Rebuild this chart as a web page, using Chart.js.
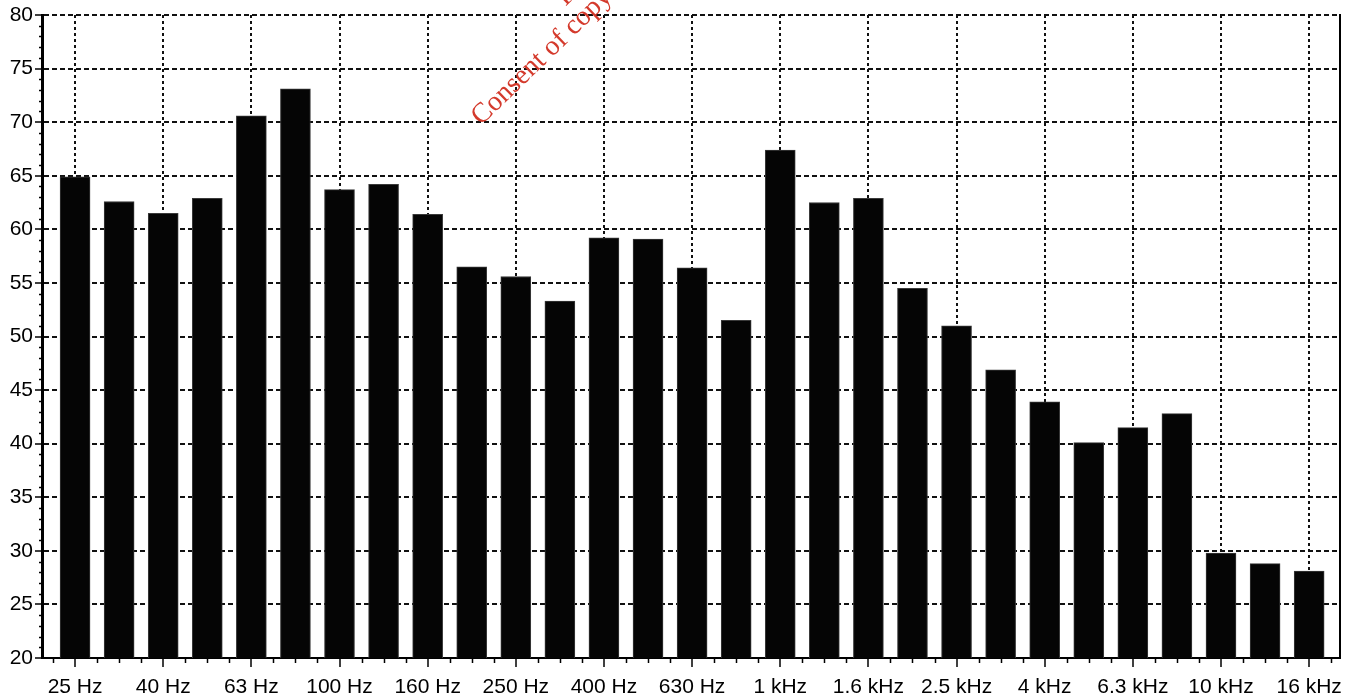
<!DOCTYPE html>
<html>
<head>
<meta charset="utf-8">
<title>Third-octave band levels</title>
<script src="https://cdn.jsdelivr.net/npm/chart.js@4.4.1/dist/chart.umd.min.js"></script>
<style>
  html, body { margin: 0; padding: 0; background: #ffffff; }
  #wrap { width: 1357px; height: 698px; position: relative; }
</style>
</head>
<body>
<div id="wrap"><canvas id="chart" width="1357" height="698"></canvas></div>
<script>
// One-third octave band centre frequencies
const bands = [
  '25 Hz', '31.5 Hz', '40 Hz', '50 Hz', '63 Hz', '80 Hz', '100 Hz', '125 Hz',
  '160 Hz', '200 Hz', '250 Hz', '315 Hz', '400 Hz', '500 Hz', '630 Hz', '800 Hz',
  '1 kHz', '1.25 kHz', '1.6 kHz', '2 kHz', '2.5 kHz', '3.15 kHz', '4 kHz', '5 kHz',
  '6.3 kHz', '8 kHz', '10 kHz', '12.5 kHz', '16 kHz'
];

// Band level, dB
const levels = [
  64.9, 62.6, 61.5, 62.9, 70.6, 73.1, 63.7, 64.2,
  61.4, 56.5, 55.6, 53.3, 59.2, 59.1, 56.4, 51.5,
  67.4, 62.5, 62.9, 54.5, 51.0, 46.9, 43.9, 40.1,
  41.5, 42.8, 29.8, 28.8, 28.1
];

// Level axis range and step
const levelMin = 20;
const levelMax = 80;
const levelStep = 5;

// Bands carrying a label (every second band)
const labelledBands = [0, 2, 4, 6, 8, 10, 12, 14, 16, 18, 20, 22, 24, 26, 28];

const stampLines = [
  'For inspection purposes only.',
  'Consent of copyright owner required for any other use.'
];

const FONT = '"Liberation Sans", Arial, sans-serif';

// Short minor ticks on both axes, plus the closing right-hand frame line
const framePlugin = {
  id: 'frame',
  afterDraw(chart) {
    const { ctx, chartArea: a, scales: { x, y } } = chart;
    ctx.save();
    ctx.strokeStyle = '#000';
    ctx.lineWidth = 1.5;
    ctx.beginPath();
    for (let v = levelMin + 1; v < levelMax; v++) {
      if (v % levelStep === 0) continue;
      const py = Math.round(y.getPixelForValue(v)) + 0.5;
      ctx.moveTo(a.left - 3, py);
      ctx.lineTo(a.left, py);
    }
    for (let i = -0.5; i <= bands.length - 0.5; i += 0.5) {
      if (labelledBands.includes(i)) continue;
      const px = Math.round(x.getPixelForValue(i)) + 0.5;
      ctx.moveTo(px, a.bottom);
      ctx.lineTo(px, a.bottom + 5);
    }
    ctx.stroke();
    ctx.lineWidth = 2;
    ctx.beginPath();
    ctx.moveTo(a.right, a.top - 1);
    ctx.lineTo(a.right, a.bottom);
    ctx.stroke();
    ctx.restore();
  }
};

// Red diagonal stamp across the upper part of the plot
const stampPlugin = {
  id: 'stamp',
  afterDraw(chart) {
    const { ctx } = chart;
    ctx.save();
    ctx.font = '28px "Liberation Serif", "Times New Roman", serif';
    ctx.fillStyle = 'rgb(212, 58, 44)';
    ctx.textBaseline = 'alphabetic';
    ctx.textAlign = 'left';
    ctx.translate(481, 126);
    ctx.rotate(-44 * Math.PI / 180);
    const wTop = ctx.measureText(stampLines[0]).width;
    const wBottom = ctx.measureText(stampLines[1]).width;
    ctx.fillText(stampLines[1], 0, 0);
    ctx.fillText(stampLines[0], (wBottom - wTop) / 2, -27);
    ctx.restore();
  }
};

new Chart(document.getElementById('chart'), {
  type: 'bar',
  data: {
    datasets: [{
      data: levels.map((v, i) => ({ x: i, y: v })),
      backgroundColor: '#050505',
      borderColor: '#3a3a3a',
      borderWidth: 1,
      barThickness: 30
    }]
  },
  options: {
    responsive: false,
    animation: false,
    events: [],
    layout: { padding: { top: 15, right: 17, left: 0, bottom: 0 } },
    plugins: {
      legend: { display: false },
      tooltip: { enabled: false }
    },
    scales: {
      x: {
        type: 'linear',
        min: -0.75,
        max: bands.length - 0.3,
        offset: false,
        afterBuildTicks(scale) {
          scale.ticks = labelledBands.map(v => ({ value: v }));
        },
        afterFit(scale) { scale.height = 40; },
        ticks: {
          autoSkip: false,
          maxRotation: 0,
          minRotation: 0,
          padding: 8,
          color: '#000',
          font: { family: FONT, size: 21 },
          callback: (value) => bands[value]
        },
        grid: {
          offset: false,
          color: '#111',
          lineWidth: 2,
          drawTicks: true,
          tickLength: 9,
          tickColor: '#000',
          tickWidth: 1.5
        },
        border: { display: true, color: '#000', width: 2, dash: [3, 3] }
      },
      y: {
        min: levelMin,
        max: levelMax,
        afterFit(scale) { scale.width = 42; },
        ticks: {
          stepSize: levelStep,
          padding: 2,
          color: '#000',
          font: { family: FONT, size: 21 }
        },
        grid: {
          color: '#111',
          lineWidth: 2,
          drawTicks: true,
          tickLength: 7,
          tickColor: '#000',
          tickWidth: 1.5
        },
        border: { display: true, color: '#000', width: 3, dash: [5, 3] }
      }
    }
  },
  plugins: [framePlugin, stampPlugin]
});
</script>
</body>
</html>
